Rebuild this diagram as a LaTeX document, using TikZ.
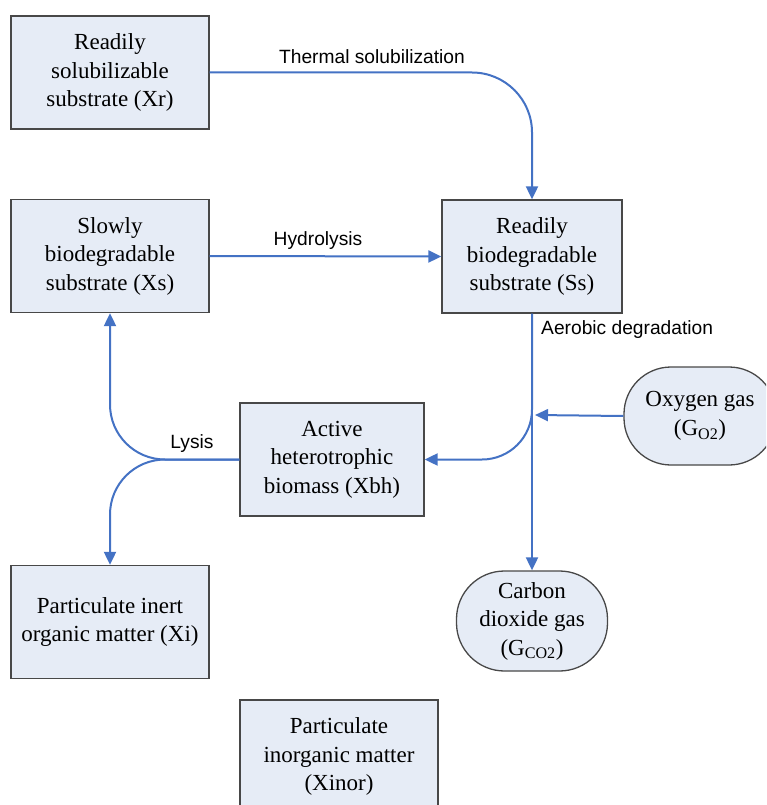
\documentclass[tikz,border=0pt]{standalone}
\usepackage{fontspec}
\setmainfont{Liberation Serif}
\newfontfamily\labelfont{Liberation Sans}
\usetikzlibrary{arrows.meta}
\definecolor{boxfill}{RGB}{230,236,246}
\definecolor{boxline}{RGB}{72,72,72}
\definecolor{flow}{RGB}{68,114,196}
\tikzset{
  box/.style={draw=boxline, line width=1.3pt, fill=boxfill, minimum width=198pt, minimum height=113pt,
    align=center, inner sep=0pt, font=\fontsize{23}{28.5}\selectfont},
  gas/.style={box, rounded corners=47pt, minimum width=152pt, minimum height=98pt},
  flowline/.style={draw=flow, line width=2pt},
  arr/.style={flowline, -{Triangle[length=13pt,width=12pt]}},
  lbl/.style={font=\labelfont\fontsize{19.2}{22}\selectfont, inner sep=0pt}
}
\begin{document}
\begin{tikzpicture}[x=1pt,y=-1pt]
\useasboundingbox (0,0) rectangle (766,805);
\clip (0,0) rectangle (766,805);
\node[box] (Xr) at (110,72.5) {Readily\\solubilizable\\substrate (Xr)};
\node[box] (Xs) at (110,256) {Slowly\\biodegradable\\substrate (Xs)};
\node[box, minimum width=180pt] (Ss) at (532,256.5) {Readily\\biodegradable\\substrate (Ss)};
\node[box, minimum width=184pt] (Xbh) at (332,459.5) {Active\\heterotrophic\\biomass (Xbh)};
\node[box] (Xi) at (110,622) {Particulate inert\\organic matter (Xi)};
\node[box] (Xinor) at (339,756.5) {Particulate\\inorganic matter\\(Xinor)};
\node[gas] (O2) at (700,416) {Oxygen gas\\(G\textsubscript{O2})};
\node[gas, minimum width=151pt, minimum height=100pt, rounded corners=48pt] (CO2) at (532,621) {Carbon\\dioxide gas\\(G\textsubscript{CO2})};
\coordinate (o2end) at (535,415);
% connectors
\draw[arr, rounded corners=60pt] (Xr.east) -| (Ss.north);
\draw[arr] (Xs.east) -- (Ss.west);
\draw[arr] (Ss.south) -- (CO2.north);
\draw[arr, rounded corners=50pt] (Ss.south) |- (Xbh.east);
\draw[arr] (O2.west) -- (o2end);
\draw[arr, rounded corners=55pt] (Xbh.west) -| (Xs.south);
\draw[arr, rounded corners=55pt] (Xbh.west) -| (Xi.north);
% labels
\node[lbl] (tl) at (372,57) {Thermal solubilization};
\node[lbl] (hl) at (318,241) {Hydrolysis};
\node[lbl, anchor=west] (al) at (541,330) {Aerobic degradation};
\node[lbl] (ll) at (192,444) {Lysis};
\end{tikzpicture}
\end{document}
